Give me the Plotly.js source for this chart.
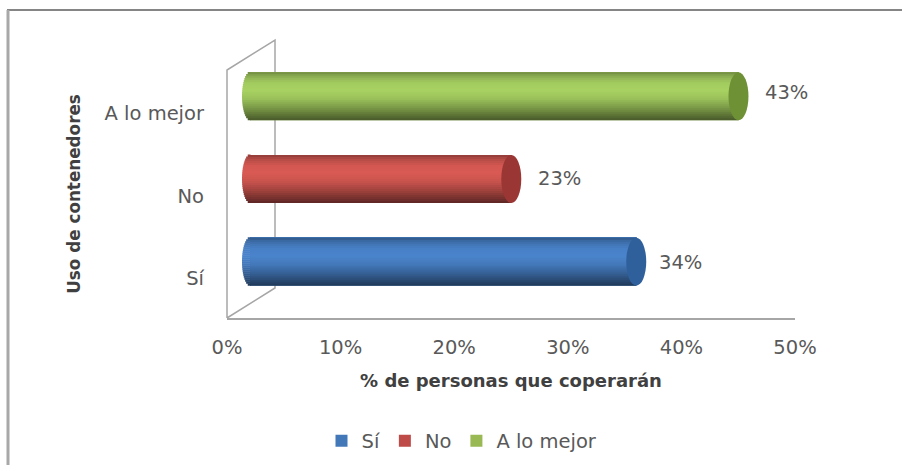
<!DOCTYPE html>
<html>
<head>
<meta charset="utf-8">
<script src="https://cdn.plot.ly/plotly-3.0.1.min.js"></script>
<style>html,body{margin:0;padding:0;background:#fff}#chart{width:902px;height:465px}</style>
</head>
<body>
<div id="chart"></div>
<script>
// Survey results: willingness to use recycling containers
const categories = ['Sí', 'No', 'A lo mejor'];
const values = [34, 23, 43];
const tickValues = [0, 10, 20, 30, 40, 50];
const tickLabels = ['0%', '10%', '20%', '30%', '40%', '50%'];

// Base colour of each cylinder and of its end face
const baseColors = [[74, 132, 204], [218, 90, 84], [168, 210, 98]];
const capColors = ['#2f609c', '#9a3634', '#6f9136'];
const legendColors = ['#4378b8', '#be4b48', '#98b954'];
const labelNudgeX = [-4, 0, 0];
const labelNudgeY = [-1, 1, 4];

// Page geometry in pixels
const W = 902, H = 465;
const left = 227, right = 795, top_ = 70, bottom = 318;
const depthX = 48, depthY = 30;
const barPx = 48, capRx = 10, nearRx = 8;
const bandW = barPx / ((bottom - top_) / 3);
const pxPerUnit = (right - left) / 50;
const capMargin = 5;  // extra axis room so the rounded near end is not clipped

const FONT = 'DejaVu Sans';
const TEXT = '#595959';
const WALL = '#a6a6a6';

// Shading from the underside (0) to the top (1) of a cylinder
const shadeStops = [[0, .42], [.08, .52], [.25, .72], [.45, .92], [.62, 1], [.78, .97], [.92, .82], [1, .66]];
function shade(t) {
  for (let i = 1; i < shadeStops.length; i++) {
    const a = shadeStops[i - 1], b = shadeStops[i];
    if (t <= b[0]) return a[1] + (b[1] - a[1]) * (t - a[0]) / (b[0] - a[0]);
  }
  return 1;
}
function tint(rgb, f) {
  return 'rgb(' + rgb.map(c => Math.round(c * f)).join(',') + ')';
}

const STRIPS = 24;
const traces = [];
const shapes = [];

// Flat series bar carries the legend entry; shaded strips are painted over it
categories.forEach((name, i) => {
  traces.push({
    type: 'bar', orientation: 'h', name: name, legendgroup: name,
    x: [values[i]], y: [i], xaxis: 'x2', yaxis: 'y2',
    width: bandW, marker: {color: legendColors[i], line: {width: 0}},
    cliponaxis: false, hoverinfo: 'skip'
  });
  for (let k = 0; k < STRIPS; k++) {
    const t = (k + .5) / STRIPS;
    const from = -bandW / 2 + k * bandW / STRIPS;
    traces.push({
      type: 'bar', orientation: 'h', showlegend: false, legendgroup: name,
      x: [values[i]], y: [i], xaxis: 'x2', yaxis: 'y2',
      width: bandW * (STRIPS - k) / STRIPS, offset: from,
      marker: {color: tint(baseColors[i], shade(t)), line: {width: 0}},
      cliponaxis: false, hoverinfo: 'skip'
    });
    // Rounded near end of the cylinder
    const py0 = -barPx / 2 + k * barPx / STRIPS;
    const rx = nearRx * Math.sqrt(Math.max(0, 1 - Math.pow(2 * t - 1, 2)));
    shapes.push({
      type: 'rect', xref: 'x2', yref: 'y2', layer: 'above',
      xsizemode: 'pixel', xanchor: 0, x0: -rx, x1: 0.5,
      ysizemode: 'pixel', yanchor: i, y0: py0, y1: py0 + barPx / STRIPS + .4,
      fillcolor: tint(baseColors[i], shade(t)), line: {width: 0}
    });
  }
  // Far end face
  shapes.push({
    type: 'circle', xref: 'x2', yref: 'y2', layer: 'above',
    xsizemode: 'pixel', xanchor: values[i], x0: -capRx, x1: capRx,
    ysizemode: 'pixel', yanchor: i, y0: -barPx / 2, y1: barPx / 2,
    fillcolor: capColors[i], line: {width: 0}
  });
});

// Invisible trace keeps the front axes drawn
traces.push({type: 'scatter', mode: 'markers', x: [0], y: [0], xaxis: 'x', yaxis: 'y',
  marker: {opacity: 0}, showlegend: false, hoverinfo: 'skip'});

function px(x) { return x / W; }
function py(y) { return 1 - y / H; }
function paperPath(points) {
  return 'M' + points.map(p => px(p[0]) + ',' + py(p[1])).join(' L');
}

// Side wall, floor edge and outer frame
shapes.push(
  {type: 'path', xref: 'paper', yref: 'paper', layer: 'below',
   path: paperPath([[left, bottom], [left, top_], [left + depthX, top_ - depthY], [left + depthX, bottom - depthY], [left, bottom]]),
   line: {color: WALL, width: 1.5}},
  {type: 'line', xref: 'paper', yref: 'paper', layer: 'below',
   x0: px(7), x1: 1, y0: py(10), y1: py(10), line: {color: '#858585', width: 2}},
  {type: 'line', xref: 'paper', yref: 'paper', layer: 'below',
   x0: px(8), x1: px(8), y0: py(10), y1: 0, line: {color: '#a8a8a8', width: 3}}
);

// Value labels beside each cylinder
const annotations = categories.map((name, i) => ({
  xref: 'x2', yref: 'y2', x: values[i], y: i, text: values[i] + '%',
  showarrow: false, xanchor: 'left', xshift: 25 + labelNudgeX[i], yshift: labelNudgeY[i],
  font: {family: FONT, size: 19.5, color: TEXT}
}));

const layout = {
  width: W, height: H,
  margin: {l: 0, r: 0, t: 0, b: 0, autoexpand: false},
  paper_bgcolor: '#fff', plot_bgcolor: 'rgba(0,0,0,0)',
  barmode: 'overlay',
  showlegend: true,
  legend: {
    orientation: 'h', x: px(462), xanchor: 'center', y: py(441), yanchor: 'middle',
    font: {family: FONT, size: 19.5, color: TEXT}, traceorder: 'normal', itemclick: false
  },
  xaxis: {
    domain: [px(left), px(right)], range: [0, 50], anchor: 'y',
    tickmode: 'array', tickvals: tickValues, ticktext: tickLabels,
    showgrid: false, zeroline: false, showline: true, linecolor: WALL, linewidth: 2,
    ticks: '', ticklabelstandoff: 11, automargin: true,
    tickfont: {family: FONT, size: 19.5, color: TEXT},
    title: {text: '% de personas que coperarán', standoff: 16,
      font: {family: FONT, size: 18, color: '#404040', weight: 'bold'}}
  },
  yaxis: {
    domain: [py(bottom), py(top_)], range: [-.5, 2.5], anchor: 'x',
    tickmode: 'array', tickvals: categories.map((_, i) => i), ticktext: categories,
    showgrid: false, zeroline: false, showline: false,
    ticks: '', ticklabelstandoff: 22, ticklabelshift: 2, automargin: true,
    tickfont: {family: FONT, size: 19.5, color: TEXT},
    title: {text: 'Uso de contenedores', standoff: 19,
      font: {family: FONT, size: 16.8, color: '#404040', weight: 'bold'}}
  },
  // Cylinders sit midway into the depth of the plot box
  xaxis2: {
    domain: [px(left + depthX / 2 - 1 - capMargin * pxPerUnit), px(right + depthX / 2 - 1)],
    range: [-capMargin, 50],
    anchor: 'y2', visible: false, fixedrange: true
  },
  yaxis2: {
    domain: [py(bottom - depthY / 2), py(top_ - depthY / 2)], range: [-.5, 2.5],
    anchor: 'x2', visible: false, fixedrange: true
  },
  shapes: shapes,
  annotations: annotations
};

Plotly.newPlot('chart', traces, layout, {displayModeBar: false, staticPlot: true});
</script>
</body>
</html>
